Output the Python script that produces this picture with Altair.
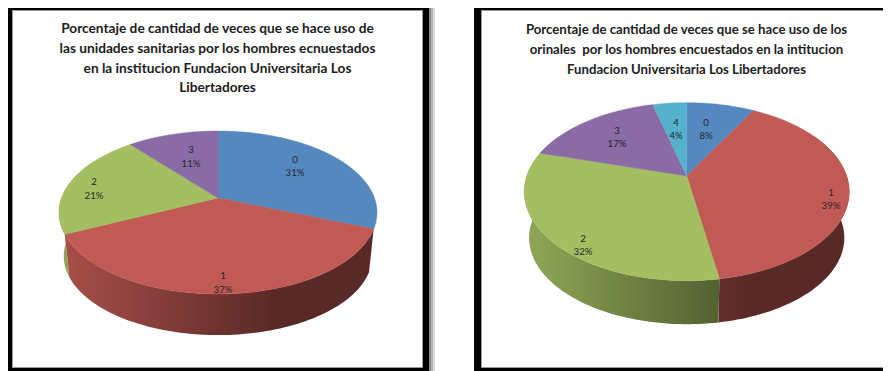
import math
import altair as alt

# ---- values -----------------------------------------------------------
left_labels = ["0", "1", "2", "3"]
left_shares = [31, 37, 21, 11]
left_percent = [31, 37, 21, 11]

right_labels = ["0", "1", "2", "3", "4"]
right_shares = [8, 39.3, 32.2, 16.5, 4]
right_percent = [8, 39, 32, 17, 4]

left_title = [
    "Porcentaje de cantidad de veces que se hace uso de",
    "las unidades sanitarias por los hombres ecnuestados",
    "en la institucion Fundacion Universitaria Los",
    "Libertadores",
]
right_title = [
    "Porcentaje de cantidad de veces que se hace uso de los",
    "orinales \u00a0por los hombres encuestados en la intitucion",
    "Fundacion Universitaria Los Libertadores",
]

# ---- styling and layout (page pixels minus the 8px body margin) --------
PALETTE = ["#5688C0", "#C15A54", "#A3BF62", "#8A6BA6", "#55B0CB"]
M = 8
CHART_W, CHART_H = 875, 363
LEFT_PIE = dict(cx=218, cy=198, up=67, down=96, half=159, depth=44)
RIGHT_PIE = dict(cx=686.7, cy=176, up=73.3, down=104.7, half=162.5, depth=46.6)
LEFT_TEXT = [(295, 159.5), (223, 276), (94, 182), (191, 150)]
RIGHT_TEXT = [(706, 122.5), (831, 192.5), (583, 238.5), (617, 130.5), (676, 122.5)]
LOWER_SCALE = 0.97
KNEE, LIGHT, DARK = 0.68, 0.88, 0.46


def to_hex(rgb):
    return "#" + "".join(f"{max(0, min(255, round(c))):02x}" for c in rgb)


def shade(color, m):
    return to_hex([int(color[i:i + 2], 16) * m for i in (1, 3, 5)])


def projector(pie):
    k = (pie["down"] / pie["up"] - 1) / (pie["down"] / pie["up"] + 1)
    a = pie["up"] * (1 + k)
    b = pie["half"] * math.sqrt(1 - k * k)

    def point(deg, scale=1.0, drop=0.0):
        u, v = math.sin(math.radians(deg)), math.cos(math.radians(deg))
        w = 1 + k * v
        return (
            pie["cx"] + scale * b * u / w - M,
            pie["cy"] + drop - scale * a * v / w - M,
        )

    return point


def feature(points, color=None):
    ring = [[round(x, 2), round(y, 2)] for x, y in points]
    ring.append(ring[0])
    return {
        "type": "Feature",
        "properties": {"color": color or "#000000"},
        "geometry": {"type": "Polygon", "coordinates": [ring]},
    }


PROJ = dict(type="identity", scale=1, translate=[0, 0])


def pie_layers(pie, shares):
    point = projector(pie)
    total = sum(shares)
    edges = [0]
    for s in shares:
        edges.append(edges[-1] + s / total * 360)
    walls, tops = [], []
    xl = pie["cx"] - pie["half"] - M
    span = 2 * pie["half"]
    for i in range(len(shares)):
        a0, a1 = edges[i], edges[i + 1]
        n = max(2, int((a1 - a0) / 1.5))
        steps = [a0 + (a1 - a0) * j / n for j in range(n + 1)]
        tops.append(feature([(pie["cx"] - M, pie["cy"] - M)] + [point(d) for d in steps], PALETTE[i]))
        b0, b1 = max(a0, 60), min(a1, 300)
        if b1 <= b0 or a1 < 120:
            continue
        n = max(2, int((b1 - b0) / 1.5))
        steps = [b0 + (b1 - b0) * j / n for j in range(n + 1)]
        ring = [point(d) for d in steps] + [point(d, LOWER_SCALE, pie["depth"]) for d in reversed(steps)]
        xmin, xmax = min(p[0] for p in ring), max(p[0] for p in ring)

        def tone(x):
            t = (x - xl) / span
            return LIGHT - (LIGHT - DARK) * min(t / KNEE, 1)

        stops = [alt.GradientStop(offset=0, color=shade(PALETTE[i], tone(xmin)))]
        knee_x = xl + KNEE * span
        if xmin < knee_x < xmax:
            stops.append(alt.GradientStop(offset=(knee_x - xmin) / (xmax - xmin),
                                          color=shade(PALETTE[i], DARK)))
        stops.append(alt.GradientStop(offset=1, color=shade(PALETTE[i], tone(xmax))))
        grad = alt.LinearGradient(gradient="linear", x1=0, y1=0, x2=1, y2=0, stops=stops)
        walls.append((
            math.cos(math.radians((b0 + b1) / 2)),
            alt.Chart(alt.Data(values=[feature(ring)])).mark_geoshape(fill=grad, strokeWidth=0).project(**PROJ),
        ))
    walls.sort(key=lambda item: -item[0])
    top_layer = alt.Chart(alt.Data(values=tops)).mark_geoshape(strokeWidth=0.5).encode(
        fill=alt.Fill("properties.color:N", scale=None),
        stroke=alt.Stroke("properties.color:N", scale=None),
    ).project(**PROJ)
    return [w for _, w in walls] + [top_layer]


def rect(x, x2, y, y2, fill):
    return dict(x=max(x - M, 0), x2=min(x2 - M, CHART_W), y=max(y - M, 0), y2=min(y2 - M, CHART_H), fill=fill)


frames = [
    rect(429, 431, 8, 371, "#888888"),
    rect(431, 433, 8, 371, "#b5b5b5"),
    rect(433, 435, 8, 371, "#dcdcdc"),
    rect(8, 429, 8, 371, "#000000"),
    rect(12, 423, 10, 368, "#9a9a9a"),
    rect(13, 422, 11, 367, "#ffffff"),
    rect(474, 891, 8, 371, "#000000"),
    rect(481, 891, 10, 368, "#9a9a9a"),
    rect(482, 890, 11, 367, "#ffffff"),
]

texts = []
for xc, lines, y0, size in ((217.5, left_title, 29, 13.7), (686.5, right_title, 30, 13.2)):
    for j, line in enumerate(lines):
        texts.append(dict(x=xc - M, y=y0 + j * 19.8 - M, t=line, s=size))

labels = []
for lab, pct, (x, y) in list(zip(left_labels, left_percent, LEFT_TEXT)) + list(
    zip(right_labels, right_percent, RIGHT_TEXT)
):
    labels.append(dict(x=x - M, y=y - M, t=f"{lab}\n{pct}%"))

X = alt.X("x:Q", scale=None, axis=None)
Y = alt.Y("y:Q", scale=None, axis=None)

frame_layer = alt.Chart(alt.Data(values=frames)).mark_rect().encode(
    x=X, x2="x2:Q", y=Y, y2="y2:Q",
    fill=alt.Fill("fill:N", scale=None),
)

title_layer = alt.Chart(alt.Data(values=texts)).mark_text(
    font="Lato", fontWeight="bold", color="#1c1c1c", align="center", baseline="middle"
).encode(x=X, y=Y, text="t:N", size=alt.Size("s:Q", scale=None))

label_layer = alt.Chart(alt.Data(values=labels)).mark_text(
    font="Lato", fontSize=9.6, color="#26262c", align="center", baseline="middle",
    lineBreak="\n", lineHeight=13.5,
).encode(x=X, y=Y, text="t:N")

layers = [frame_layer] + pie_layers(LEFT_PIE, left_shares) + pie_layers(RIGHT_PIE, right_shares) + [title_layer, label_layer]

chart = (
    alt.layer(*layers)
    .properties(width=CHART_W, height=CHART_H, padding=0, background="white",
                autosize=alt.AutoSizeParams(type="none"))
    .configure_view(strokeWidth=0)
)

chart.save("out.html", embed_options={"renderer": "svg", "actions": False})
